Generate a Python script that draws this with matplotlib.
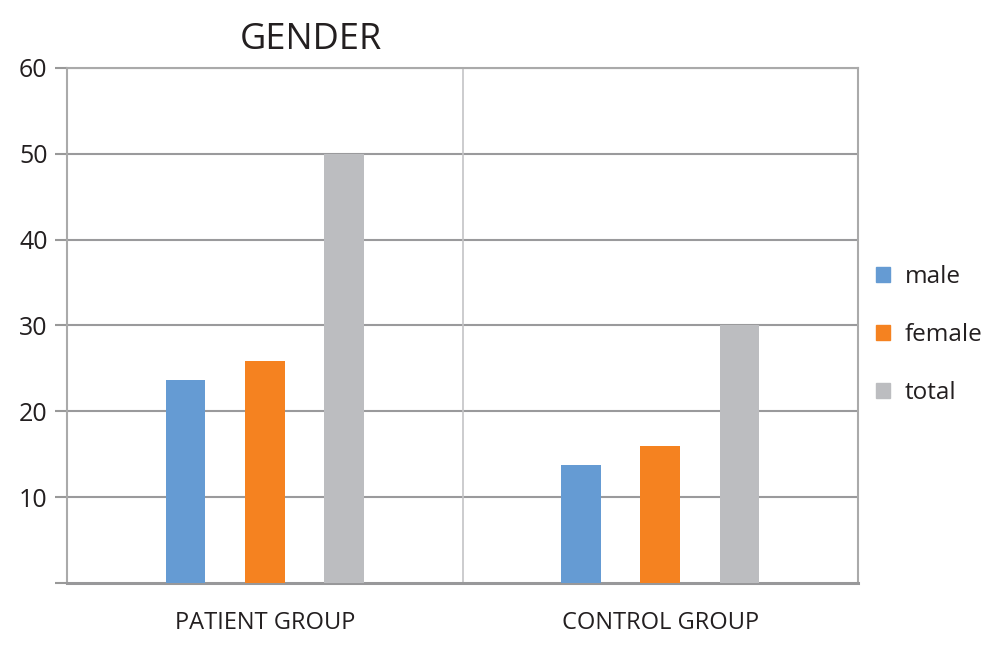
from matplotlib import pyplot as plt
from matplotlib.patches import Patch
import numpy as np

plt.rcParams['font.family'] = ['Open Sans', 'DejaVu Sans']

# Data
groups = ['PATIENT GROUP', 'CONTROL GROUP']
series = ['male', 'female', 'total']
male = [23.7, 13.8]
female = [25.9, 16.0]
total = [50, 30]
values = [male, female, total]
colors = ['#659bd3', '#f58220', '#bcbdc0']
y_ticks = [0, 10, 20, 30, 40, 50, 60]

fig = plt.figure(figsize=(10, 6.48), dpi=100)
ax = fig.add_axes([0.067, 0.1003, 0.791, 0.7948])

x = np.arange(len(groups))
offsets = [-0.2, 0.0, 0.2]
for vals, off, c in zip(values, offsets, colors):
    ax.bar(x + off, vals, width=0.1, color=c, zorder=3)

ax.set_xlim(-0.5, 1.5)
ax.set_ylim(0, 60)
ax.set_yticks(y_ticks)
ax.set_yticklabels(['' if t == 0 else str(t) for t in y_ticks], fontsize=18, color='#231f20')
ax.set_xticks(x)
ax.set_xticklabels(groups, fontsize=17, color='#231f20')
ax.tick_params(axis='x', length=0, pad=20)
ax.tick_params(axis='y', length=9, width=1.5, color='#999999', pad=5)

# gridlines and group separator
for t in y_ticks[1:]:
    ax.axhline(t, color='#9a9a9c', lw=1.5, zorder=1)
ax.axvline(0.5, color='#c4c4c6', lw=1.2, zorder=1)

for s in ['left', 'right', 'top']:
    ax.spines[s].set_color('#aaaaaa')
    ax.spines[s].set_linewidth(1.5)
ax.spines['bottom'].set_color('#98989a')
ax.spines['bottom'].set_linewidth(2.2)

ax.set_title('GENDER', fontsize=26, color='#231f20', loc='left', x=0.218, pad=14)

handles = [Patch(color=c, label=s) for c, s in zip(colors, series)]
leg = fig.legend(handles=handles, loc='center left', bbox_to_anchor=(0.854, 0.483),
                 frameon=False, fontsize=17.5, labelspacing=1.4, handlelength=0.6,
                 handleheight=0.6, handletextpad=0.6)
for t in leg.get_texts():
    t.set_color('#231f20')

plt.savefig('out.png', dpi=100)
